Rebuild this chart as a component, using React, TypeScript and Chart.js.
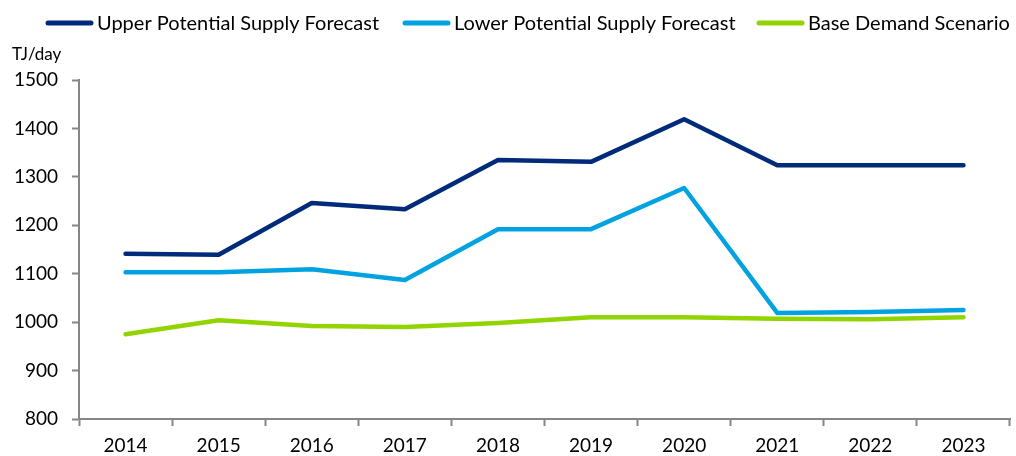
import React, { useEffect, useRef } from "react";
import { Chart, registerables } from "chart.js";

Chart.register(...registerables);

const categories = ["2014", "2015", "2016", "2017", "2018", "2019", "2020", "2021", "2022", "2023"];
const upperSupply = [1141, 1139, 1246, 1233, 1335, 1331, 1419, 1324, 1324, 1324];
const lowerSupply = [1103, 1103, 1109, 1087, 1192, 1192, 1277, 1019, 1021, 1025];
const baseDemand = [975, 1004, 992, 990, 998, 1010, 1010, 1007, 1006, 1010];
const seriesNames = ["Upper Potential Supply Forecast", "Lower Potential Supply Forecast", "Base Demand Scenario"];
const seriesColors = ["#002A7A", "#00A3E0", "#92D400"];
const yTitle = "TJ/day";

const FONT = "Lato, 'Noto Sans', sans-serif";
const AXIS = "#868686";
const LEGEND_X = [46, 403, 757];

const lineLegend = {
  id: "lineLegend",
  afterDraw(chart: any) {
    const ctx = chart.ctx;
    const ds = chart.data.datasets;
    ctx.save();
    ctx.font = `20px ${FONT}`;
    const lineLen = 47;
    const gapText = 4;
    const y = 23;
    ds.forEach((d: any, i: number) => {
      const x = LEGEND_X[i];
      ctx.strokeStyle = d.borderColor;
      ctx.lineWidth = 5;
      ctx.lineCap = "round";
      ctx.beginPath();
      ctx.moveTo(x + 2, y);
      ctx.lineTo(x + lineLen - 2, y);
      ctx.stroke();
      ctx.fillStyle = "#000";
      ctx.textBaseline = "middle";
      ctx.textAlign = "left";
      ctx.fillText(d.label, x + lineLen + gapText, y + 1);
    });
    ctx.restore();
  },
};

export default function App() {
  const ref = useRef<HTMLCanvasElement | null>(null);
  useEffect(() => {
    document.body.style.margin = "0";
    const canvas = ref.current;
    if (!canvas) return;
    const values = [upperSupply, lowerSupply, baseDemand];
    const chart = new Chart(canvas, {
      type: "line",
      data: {
        labels: categories,
        datasets: seriesNames.map((name, i) => ({
          label: name,
          data: values[i],
          borderColor: seriesColors[i],
          backgroundColor: seriesColors[i],
          borderWidth: 4.5,
          pointRadius: 0,
          tension: 0,
          borderCapStyle: "round" as const,
          borderJoinStyle: "round" as const,
        })),
      },
      options: {
        animation: false,
        responsive: false,
        maintainAspectRatio: false,
        layout: { padding: { left: 12, right: 6, top: 4, bottom: 0 } },
        plugins: {
          legend: { display: false },
          title: {
            display: true,
            text: yTitle,
            align: "start",
            position: "top",
            color: "#000",
            font: { family: FONT, size: 17, weight: "normal" },
            padding: { top: 40, bottom: 15.6 },
          },
          tooltip: { enabled: false },
        },
        scales: {
          x: {
            offset: true,
            afterFit: (s: any) => {
              s.height = 37;
            },
            grid: {
              display: true,
              offset: true,
              drawOnChartArea: false,
              drawTicks: true,
              tickLength: 7,
              tickColor: AXIS,
              tickWidth: 2,
            },
            border: { display: true, color: AXIS, width: 2 },
            ticks: { font: { family: FONT, size: 19 }, color: "#000", padding: 8, maxRotation: 0 },
          },
          y: {
            min: 800,
            max: 1500,
            afterFit: (s: any) => {
              s.width = 67;
            },
            grid: {
              display: true,
              drawOnChartArea: false,
              drawTicks: true,
              tickLength: 7,
              tickColor: AXIS,
              tickWidth: 2,
            },
            border: { display: true, color: AXIS, width: 2 },
            ticks: {
              stepSize: 100,
              font: { family: FONT, size: 19 },
              color: "#000",
              padding: 14,
              callback: (v: any) => String(v),
            },
          },
        },
      },
      plugins: [lineLegend],
    });
    return () => chart.destroy();
  }, []);
  return (
    <div style={{ width: 1016, height: 456 }}>
      <canvas ref={ref} width={1016} height={456} style={{ display: "block" }} />
    </div>
  );
}
